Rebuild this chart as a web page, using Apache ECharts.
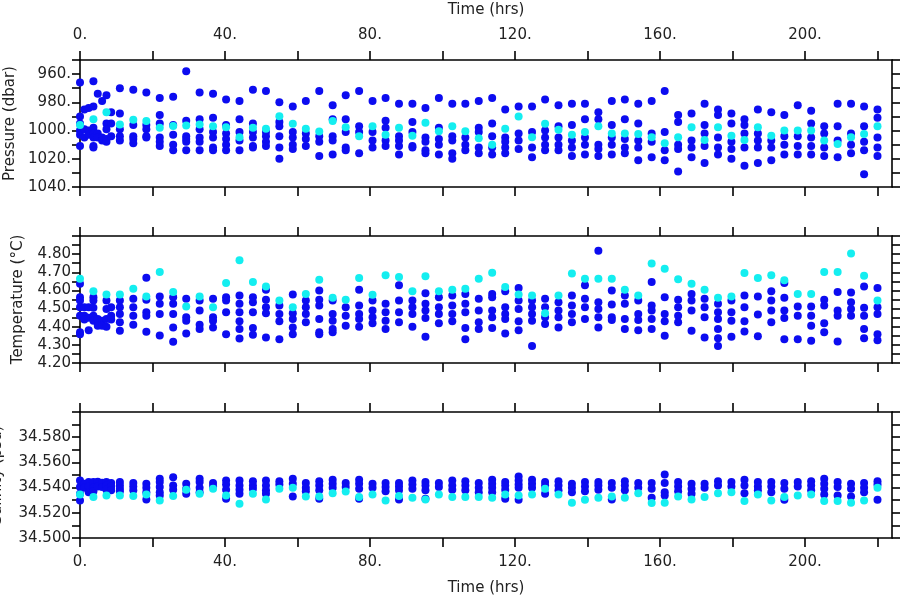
<!DOCTYPE html>
<html>
<head>
<meta charset="utf-8">
<script src="https://cdn.jsdelivr.net/npm/echarts@6/dist/echarts.min.js"></script>
<style>html,body{margin:0;padding:0;background:#fff}#c{width:900px;height:600px}</style>
</head>
<body>
<div id="c"></div>
<script>
// ---- Data ----
const times = [0, 1.2, 2.4, 3.7, 4.9, 6.1, 7.3, 8.6,
  11.0, 14.7, 18.3, 22.0, 25.7, 29.3, 33.0, 36.7, 40.3, 44.0, 47.7, 51.3, 55.0, 58.7, 62.3, 66.0, 69.7,
  73.3, 77.0, 80.7, 84.3, 88.0, 91.7, 95.3, 99.0, 102.7, 106.3, 110.0, 113.7, 117.3, 121.0, 124.7, 128.3,
  132.0, 135.7, 139.3, 143.0, 146.7, 150.3, 154.0, 157.7, 161.3, 165.0, 168.7, 172.3, 176.0, 179.7, 183.3,
  187.0, 190.7, 194.3, 198.0, 201.7, 205.3, 209.0, 212.7, 216.3, 220.0];

const pressureBlue = [
  [966, 990, 995, 1000, 1003, 1011], [985, 999, 1005], [984, 1000, 1003], [965, 983, 998, 1002, 1005, 1011, 1012],
  [974, 1002, 1005], [979, 1005, 1007], [975, 995, 999, 1006, 1008], [987, 995, 1004],
  [970, 988, 999, 1004, 1007], [971, 996, 1004, 1006, 1009], [973, 996, 999, 1004, 1005], [977, 989, 995, 1005, 1008, 1011],
  [976, 996, 1003, 1010, 1014], [958, 993, 1004, 1006, 1008, 1014], [973, 992, 999, 1005, 1008, 1014], [974, 991, 1001, 1005, 1012, 1014],
  [978, 996, 1002, 1006, 1010, 1014], [979, 992, 1001, 1007, 1014], [971, 995, 1001, 1005, 1011, 1012], [972, 1001, 1004, 1008, 1011],
  [980, 994, 997, 1004, 1012, 1020], [983, 1001, 1005, 1010, 1013], [979, 1002, 1006, 1011], [972, 1004, 1008, 1018],
  [982, 992, 1004, 1007, 1017], [975, 992, 1001, 1012, 1014], [972, 997, 1001, 1016], [979, 1001, 1007, 1012],
  [977, 993, 998, 1007, 1011], [981, 1004, 1007, 1011, 1017], [981, 994, 1001, 1011, 1012], [984, 1005, 1008, 1014, 1016],
  [977, 998, 1006, 1010, 1017], [981, 1004, 1007, 1016, 1020], [981, 1005, 1010, 1014], [979, 998, 1001, 1012, 1016],
  [977, 995, 1004, 1012, 1017], [985, 1005, 1008, 1012, 1016], [983, 1002, 1007, 1013], [983, 1001, 1012, 1019],
  [978, 1000, 1005, 1010, 1014], [982, 997, 1005, 1010, 1014], [981, 996, 1007, 1012, 1018], [981, 992, 1005, 1010, 1017],
  [987, 992, 1010, 1013, 1018], [979, 996, 1005, 1010, 1017], [978, 992, 1006, 1012, 1016], [981, 995, 1007, 1012, 1021],
  [979, 1002, 1008, 1019], [972, 1001, 1014, 1021], [989, 994, 1010, 1013, 1029], [988, 1007, 1012, 1019],
  [981, 996, 1002, 1011, 1023], [985, 989, 1005, 1012, 1017], [988, 995, 1008, 1013, 1020], [992, 996, 1002, 1012, 1025],
  [985, 1002, 1007, 1012, 1023], [987, 1007, 1012, 1021], [989, 1004, 1010, 1017], [982, 1004, 1011, 1017],
  [986, 995, 1005, 1011, 1017], [997, 1002, 1012, 1018], [981, 997, 1007, 1019], [981, 1002, 1010, 1016],
  [983, 997, 1008, 1014, 1031], [985, 991, 1005, 1012, 1018]
];
const pressureCyan = [996, null, null, 992, null, null, 987, null,
  995.7, 992.4, 993.3, 998, 996.7, 996.4, 995.7, 997, 997.6, 1004.8, 998, 998.8, 989.8, 995.2, 998.8, 1000.7, 993.3,
  997.6, 1004, 997, 1003, 998, 1003.6, 994.5, 1000.5, 997, 1000.5, 1005.5, 1010, 998.8, 990, 1004.8, 995.2,
  999.5, 1003, 1001, 997, 1002, 1002, 1002.4, 1004.8, 1009, 1004.8, 997.6, 1006.7, 997.6, 1003.6, 1006.7,
  997.6, 1003.6, 1000, 1000, 1000, 1007, 1009.5, 1004.8, 1002.4, 997];

const temperatureBlue = [
  [4.637, 4.563, 4.544, 4.507, 4.461, 4.369, 4.359], [4.507, 4.46, 4.44], [4.507, 4.45, 4.381], [4.563, 4.544, 4.504, 4.461, 4.433],
  [4.443, 4.406], [4.433, 4.406], [4.544, 4.498, 4.443, 4.40], [4.507, 4.461, 4.44],
  [4.544, 4.507, 4.47, 4.424, 4.378], [4.554, 4.507, 4.461, 4.411], [4.67, 4.548, 4.48, 4.461, 4.372], [4.567, 4.526, 4.47, 4.352],
  [4.563, 4.526, 4.47, 4.396, 4.317], [4.554, 4.452, 4.433, 4.363], [4.544, 4.489, 4.411, 4.387], [4.554, 4.452, 4.433, 4.396],
  [4.563, 4.544, 4.48, 4.359], [4.572, 4.526, 4.48, 4.43, 4.387, 4.335], [4.563, 4.535, 4.48, 4.393, 4.356], [4.604, 4.548, 4.507, 4.474, 4.341],
  [4.517, 4.47, 4.43, 4.331], [4.578, 4.474, 4.443, 4.396, 4.359], [4.544, 4.507, 4.47, 4.424], [4.6, 4.548, 4.517, 4.443, 4.369, 4.359],
  [4.544, 4.47, 4.433, 4.387, 4.369], [4.507, 4.461, 4.406], [4.604, 4.517, 4.47, 4.443, 4.40], [4.544, 4.489, 4.452, 4.419],
  [4.526, 4.48, 4.433, 4.387], [4.628, 4.544, 4.48, 4.424], [4.544, 4.507, 4.47, 4.40], [4.585, 4.526, 4.489, 4.448, 4.344],
  [4.563, 4.507, 4.47, 4.419], [4.572, 4.517, 4.47, 4.43], [4.581, 4.526, 4.48, 4.393, 4.331], [4.554, 4.489, 4.424, 4.387],
  [4.581, 4.563, 4.489, 4.452, 4.393], [4.596, 4.507, 4.47, 4.443, 4.363], [4.613, 4.544, 4.498, 4.43, 4.381], [4.544, 4.507, 4.47, 4.433, 4.294],
  [4.554, 4.507, 4.452, 4.415], [4.535, 4.489, 4.452, 4.396], [4.572, 4.517, 4.47, 4.424], [4.628, 4.554, 4.507, 4.443],
  [4.819, 4.535, 4.498, 4.452, 4.396], [4.6, 4.522, 4.452, 4.437], [4.572, 4.526, 4.443, 4.387], [4.544, 4.47, 4.437, 4.381],
  [4.646, 4.517, 4.489, 4.443, 4.387], [4.563, 4.47, 4.43, 4.35], [4.548, 4.507, 4.461, 4.424], [4.581, 4.544, 4.489, 4.378],
  [4.554, 4.507, 4.452, 4.341], [4.526, 4.48, 4.443, 4.387, 4.337, 4.294], [4.544, 4.48, 4.433, 4.344], [4.572, 4.507, 4.43, 4.374],
  [4.567, 4.467, 4.348], [4.596, 4.544, 4.489, 4.424], [4.641, 4.559, 4.489, 4.448, 4.331], [4.511, 4.461, 4.331],
  [4.511, 4.461, 4.406, 4.322], [4.548, 4.517, 4.419, 4.369], [4.591, 4.489, 4.461, 4.319], [4.589, 4.535, 4.498, 4.461],
  [4.622, 4.504, 4.461, 4.387, 4.337], [4.613, 4.507, 4.47, 4.359, 4.326]
];
const temperatureCyan = [4.665, null, null, 4.596, null, null, 4.578, null,
  4.578, 4.609, 4.567, 4.702, 4.591, 4.511, 4.567, 4.507, 4.641, 4.767, 4.646, 4.622, 4.544, 4.507, 4.581, 4.659, 4.559,
  4.548, 4.669, 4.576, 4.683, 4.674, 4.596, 4.678, 4.596, 4.604, 4.609, 4.665, 4.698, 4.619, 4.578, 4.572, 4.474,
  4.572, 4.693, 4.665, 4.665, 4.665, 4.604, 4.572, 4.748, 4.72, 4.661, 4.637, 4.604, 4.559, 4.567, 4.696,
  4.669, 4.683, 4.656, 4.581, 4.581, 4.702, 4.702, 4.804, 4.681, 4.544];

const salinityBlue = [
  [34.5457, 34.5404, 34.5351, 34.5298], [34.5430, 34.5399], [34.5444, 34.5409, 34.5364], [34.5444, 34.5399, 34.5372],
  [34.5446, 34.5409], [34.5438, 34.5404], [34.5444, 34.5417, 34.5383], [34.5436, 34.5409, 34.5378],
  [34.5444, 34.5417, 34.5391, 34.5372], [34.5436, 34.5409, 34.5378], [34.5430, 34.5399, 34.5364, 34.5306], [34.5470, 34.5444, 34.5404, 34.5364, 34.5338],
  [34.5483, 34.5417, 34.5383], [34.5430, 34.5391, 34.5351], [34.5470, 34.5444, 34.5399, 34.5364], [34.5436, 34.5409],
  [34.5457, 34.5425, 34.5383, 34.5312], [34.5457, 34.5417, 34.5383, 34.5351], [34.5451, 34.5417, 34.5391], [34.5457, 34.5417, 34.5378, 34.5351],
  [34.5451, 34.5425], [34.5470, 34.5430, 34.5330], [34.5436, 34.5399, 34.5372], [34.5451, 34.5417, 34.5378, 34.5312],
  [34.5462, 34.5430, 34.5399], [34.5436, 34.5404], [34.5462, 34.5430, 34.5391, 34.5312], [34.5430, 34.5399],
  [34.5436, 34.5404, 34.5372], [34.5436, 34.5409, 34.5378, 34.5306], [34.5457, 34.5425, 34.5391], [34.5444, 34.5417, 34.5378, 34.5312],
  [34.5436, 34.5404], [34.5457, 34.5417, 34.5383], [34.5451, 34.5417, 34.5378], [34.5436, 34.5399, 34.5364],
  [34.5462, 34.5430, 34.5399, 34.5364], [34.5444, 34.5417, 34.5383, 34.5312], [34.5488, 34.5457, 34.5425, 34.5399, 34.5304], [34.5462, 34.5430, 34.5399],
  [34.5444, 34.5417, 34.5351], [34.5451, 34.5417, 34.5378], [34.5430, 34.5399, 34.5364], [34.5444, 34.5409, 34.5372],
  [34.5444, 34.5417, 34.5383], [34.5436, 34.5399, 34.5306], [34.5451, 34.5417, 34.5378], [34.5436, 34.5399],
  [34.5436, 34.5391, 34.5319], [34.5504, 34.5436, 34.5364, 34.5338], [34.5444, 34.5409, 34.5372], [34.5430, 34.5391, 34.5351],
  [34.5430, 34.5399], [34.5451, 34.5417], [34.5444, 34.5409], [34.5462, 34.5417, 34.5356],
  [34.5444, 34.5409, 34.5378], [34.5444, 34.5409, 34.5364], [34.5436, 34.5391, 34.5304], [34.5444, 34.5409],
  [34.5451, 34.5417, 34.5378], [34.5470, 34.5430, 34.5391, 34.5346], [34.5444, 34.5404, 34.5338], [34.5430, 34.5391, 34.5330],
  [34.5436, 34.5399, 34.5364], [34.5451, 34.5425, 34.5304]
];
const salinityCyan = [34.5346, null, null, 34.5325, null, null, 34.5338, null,
  34.5338, 34.5333, 34.5346, 34.5298, 34.5333, 34.5383, 34.5351, 34.5391, 34.5338, 34.5272, 34.5351, 34.5306, 34.5391, 34.5399, 34.5330, 34.5330, 34.5356,
  34.5370, 34.5325, 34.5346, 34.5298, 34.5333, 34.5319, 34.5306, 34.5346, 34.5325, 34.5325, 34.5325, 34.5319, 34.5346, 34.5338, 34.5346, 34.5391,
  34.5346, 34.5280, 34.5304, 34.5319, 34.5330, 34.5319, 34.5356, 34.5277, 34.5280, 34.5330, 34.5306, 34.5325, 34.5356, 34.5364, 34.5293,
  34.5346, 34.5298, 34.5325, 34.5338, 34.5346, 34.5293, 34.5293, 34.5280, 34.5298, 34.5399];

// tick / label values
const timeTicks = [0, 20, 40, 60, 80, 100, 120, 140, 160, 180, 200, 220];
const timeLabels = [0, 40, 80, 120, 160, 200];
const pressureTicks = [950, 960, 970, 980, 990, 1000, 1010, 1020, 1030, 1040];
const pressureLabels = [960, 980, 1000, 1020, 1040];
const temperatureTicks = [4.20, 4.25, 4.30, 4.35, 4.40, 4.45, 4.50, 4.55, 4.60, 4.65, 4.70, 4.75, 4.80, 4.85, 4.90];
const temperatureLabels = [4.20, 4.30, 4.40, 4.50, 4.60, 4.70, 4.80];
const salinityTicks = [34.50, 34.51, 34.52, 34.53, 34.54, 34.55, 34.56, 34.57, 34.58, 34.59, 34.60];
const salinityLabels = [34.50, 34.52, 34.54, 34.56, 34.58];

// ---- Build ----
const FONT = 'DejaVu Sans';
const LINE = { color: '#000', width: 1.6 };
const TXT = { color: '#222', fontSize: 15, fontFamily: FONT };

function pts(cols) {
  const out = [];
  cols.forEach((vals, i) => vals.forEach(v => out.push([times[i], v])));
  return out;
}
function ptsCyan(vals) {
  const out = [];
  vals.forEach((v, i) => { if (v !== null) out.push([times[i], v]); });
  return out;
}

function xAx(grid, position, labels, name, gap) {
  return {
    type: 'value', gridIndex: grid, position: position, min: 0, max: 224,
    axisLine: { show: true, onZero: false, lineStyle: LINE },
    axisTick: { show: true, inside: false, length: 9, customValues: timeTicks, lineStyle: LINE },
    axisLabel: { show: labels, customValues: timeLabels, formatter: v => v + '.', margin: 17, ...TXT },
    splitLine: { show: false },
    name: name || '', nameLocation: 'middle', nameGap: gap || 0, nameTextStyle: TXT
  };
}
function yAx(grid, position, min, max, ticks, labels, fmt, inverse, name, gap) {
  return {
    type: 'value', gridIndex: grid, position: position, min: min, max: max, inverse: !!inverse,
    axisLine: { show: true, onZero: false, lineStyle: LINE },
    axisTick: { show: true, inside: false, length: 8, customValues: ticks, lineStyle: LINE },
    axisLabel: { show: position === 'left', customValues: labels, formatter: fmt, margin: 9, ...TXT },
    splitLine: { show: false },
    name: name || '', nameLocation: 'middle', nameGap: gap || 0, nameTextStyle: TXT
  };
}

const BLUE = '#0c0cf0';
const CYAN = '#14eef0';
function sc(data, color, xi, yi) {
  return { type: 'scatter', data: data, xAxisIndex: xi, yAxisIndex: yi, symbol: 'circle', symbolSize: 8,
    itemStyle: { color: color, opacity: 1 }, clip: false, silent: true };
}

const chart = echarts.init(document.getElementById('c'), null, { renderer: 'canvas' });
chart.setOption({
  animation: false,
  backgroundColor: '#fff',
  grid: [
    { left: 80, right: 8, top: 60, height: 127, containLabel: false, outerBoundsMode: 'none' },
    { left: 80, right: 8, top: 236, height: 127, containLabel: false, outerBoundsMode: 'none' },
    { left: 80, right: 8, top: 412, height: 126, containLabel: false, outerBoundsMode: 'none' }
  ],
  xAxis: [
    xAx(0, 'bottom', false), xAx(0, 'top', true, 'Time (hrs)', 42),
    xAx(1, 'bottom', false), xAx(1, 'top', false),
    xAx(2, 'bottom', true, 'Time (hrs)', 43), xAx(2, 'top', false)
  ],
  yAxis: [
    yAx(0, 'left', 950, 1040, pressureTicks, pressureLabels, v => v + '.', true, 'Pressure (dbar)', 62),
    yAx(0, 'right', 950, 1040, pressureTicks, [], v => '', true),
    yAx(1, 'left', 4.2, 4.9, temperatureTicks, temperatureLabels, v => v.toFixed(2), false, 'Temperature (°C)', 54),
    yAx(1, 'right', 4.2, 4.9, temperatureTicks, [], v => '', false),
    yAx(2, 'left', 34.5, 34.6, salinityTicks, salinityLabels, v => v.toFixed(3), false, 'Salinity (psu)', 75),
    yAx(2, 'right', 34.5, 34.6, salinityTicks, [], v => '', false)
  ],
  series: [
    sc(pts(pressureBlue), BLUE, 0, 0),
    sc(ptsCyan(pressureCyan), CYAN, 0, 0),
    sc(pts(temperatureBlue), BLUE, 2, 2),
    sc(ptsCyan(temperatureCyan), CYAN, 2, 2),
    sc(pts(salinityBlue), BLUE, 4, 4),
    sc(ptsCyan(salinityCyan), CYAN, 4, 4)
  ]
});
</script>
</body>
</html>
